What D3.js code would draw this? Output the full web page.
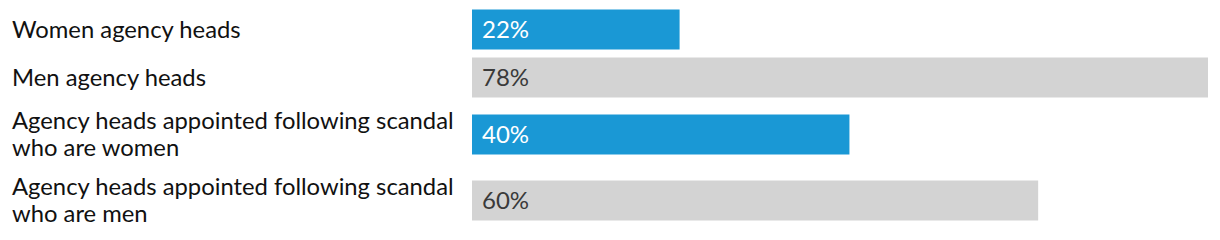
<!DOCTYPE html>
<html>
<head>
<meta charset="utf-8">
<script src="https://cdn.jsdelivr.net/npm/d3@7"></script>
<style>
  body { margin: 0; background: #fff; }
  svg { display: block; }
</style>
</head>
<body>
<script>
var labels = [
    ['Women agency heads'],
    ['Men agency heads'],
    ['Agency heads appointed following scandal', 'who are women'],
    ['Agency heads appointed following scandal', 'who are men']
];
var values = [22, 78, 40, 60];
var groups = ['women', 'men', 'women', 'men'];

var svgWidth = 1220;
var svgHeight = 240;
var barLeft = 472;
var barHeight = 40;
var lineHeight = 26.5;
var gap = 8;

var colors = {women: '#1a98d5', men: '#d3d3d3'};
var textColors = {women: '#ffffff', men: '#3a3a3a'};

var svg = d3.select('body')
    .append('svg')
    .attr('width', svgWidth)
    .attr('height', svgHeight);

var x = d3.scaleLinear()
    .domain([0, 78])
    .range([barLeft, 1208]);

// row centres: each row is as tall as its bar or its label block
var rowH = labels.map(function (l) {
    return l.length > 1 ? 58 : barHeight;
});
var centres = [];
var y0 = 9.5;
rowH.forEach(function (h, i) {
    centres.push(y0 + h / 2);
    y0 += h + gap;
});

var rows = svg.selectAll('g.row')
    .data(values)
    .enter()
    .append('g')
    .attr('class', 'row')
    .attr('transform', function (d, i) {
        return 'translate(0,' + centres[i] + ')';
    });

rows.append('rect')
    .attr('x', x(0))
    .attr('y', -barHeight / 2)
    .attr('width', function (d) { return x(d) - x(0); })
    .attr('height', barHeight)
    .attr('fill', function (d, i) { return colors[groups[i]]; });

rows.append('text')
    .attr('x', x(0) + 10)
    .attr('y', 8.5)
    .attr('font-family', 'Lato, sans-serif')
    .attr('font-size', 24)
    .attr('fill', function (d, i) { return textColors[groups[i]]; })
    .text(function (d) { return d + '%'; });

rows.append('text')
    .attr('x', 12)
    .attr('font-family', 'Lato, sans-serif')
    .attr('font-size', 23.8)
    .attr('fill', '#111')
    .each(function (d, i) {
        var t = d3.select(this);
        var n = labels[i].length;
        labels[i].forEach(function (line, j) {
            t.append('tspan')
                .attr('x', 12)
                .attr('y', 8 + (j - (n - 1) / 2) * lineHeight)
                .text(line);
        });
    });
</script>
</body>
</html>
